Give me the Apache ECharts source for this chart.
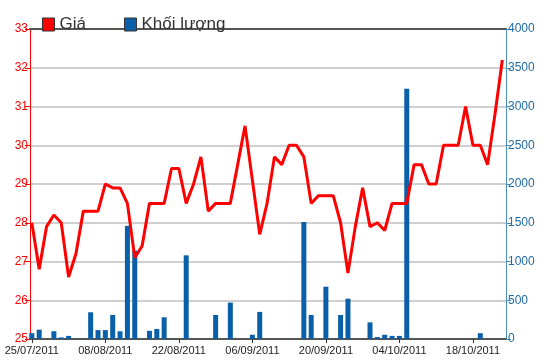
<!DOCTYPE html>
<html>
<head>
<meta charset="utf-8">
<script src="https://cdn.jsdelivr.net/npm/echarts@6/dist/echarts.min.js"></script>
<style>
html,body{margin:0;padding:0;background:#fff;}
#chart{width:550px;height:364px;}
</style>
</head>
<body>
<div id="chart"></div>
<script>
// Trading dates (02/09/2011 holiday skipped)
const dates = [
  '25/07/2011','26/07/2011','27/07/2011','28/07/2011','29/07/2011',
  '01/08/2011','02/08/2011','03/08/2011','04/08/2011','05/08/2011',
  '08/08/2011','09/08/2011','10/08/2011','11/08/2011','12/08/2011',
  '15/08/2011','16/08/2011','17/08/2011','18/08/2011','19/08/2011',
  '22/08/2011','23/08/2011','24/08/2011','25/08/2011','26/08/2011',
  '29/08/2011','30/08/2011','31/08/2011','01/09/2011',
  '05/09/2011','06/09/2011','07/09/2011','08/09/2011','09/09/2011',
  '12/09/2011','13/09/2011','14/09/2011','15/09/2011','16/09/2011',
  '19/09/2011','20/09/2011','21/09/2011','22/09/2011','23/09/2011',
  '26/09/2011','27/09/2011','28/09/2011','29/09/2011','30/09/2011',
  '03/10/2011','04/10/2011','05/10/2011','06/10/2011','07/10/2011',
  '10/10/2011','11/10/2011','12/10/2011','13/10/2011','14/10/2011',
  '17/10/2011','18/10/2011','19/10/2011','20/10/2011','21/10/2011',
  '24/10/2011'
];
const price = [
  28.0, 26.8, 27.9, 28.2, 28.0,
  26.6, 27.2, 28.3, 28.3, 28.3,
  29.0, 28.9, 28.9, 28.5, 27.1,
  27.4, 28.5, 28.5, 28.5, 29.4,
  29.4, 28.5, 29.0, 29.7, 28.3,
  28.5, 28.5, 28.5, 29.5,
  30.5, 29.1, 27.7, 28.5, 29.7,
  29.5, 30.0, 30.0, 29.7, 28.5,
  28.7, 28.7, 28.7, 28.0, 26.7,
  27.9, 28.9, 27.9, 28.0, 27.8,
  28.5, 28.5, 28.5, 29.5, 29.5,
  29.0, 29.0, 30.0, 30.0, 30.0,
  31.0, 30.0, 30.0, 29.5, 30.8,
  32.2
];
const volume = [
  75, 120, 0, 100, 20,
  40, 0, 0, 345, 115,
  115, 310, 100, 1460, 1140,
  0, 105, 130, 280, 0,
  0, 1080, 0, 0, 0,
  310, 0, 470, 0,
  0, 55, 350, 0, 0,
  0, 0, 0, 1510, 310,
  0, 675, 0, 310, 520,
  0, 0, 215, 25, 55,
  40, 40, 3230, 0, 0,
  0, 0, 0, 0, 0,
  0, 0, 75, 0, 0
];
const priceTicks = [25, 33, 1];
const volumeTicks = [0, 4000, 500];
const labelIdx = [0, 10, 20, 30, 40, 50, 60];

const FONT = 'Liberation Sans';
const chart = echarts.init(document.getElementById('chart'), null, {renderer: 'canvas'});
chart.setOption({
  animation: false,
  backgroundColor: '#ffffff',
  textStyle: {fontFamily: FONT},
  grid: {left: 30, right: 44, top: 29, bottom: 25, containLabel: false, outerBoundsMode: 'none'},
  legend: {
    left: 37, top: 11, icon: 'rect', itemWidth: 12, itemHeight: 13, itemGap: 38,
    textStyle: {fontSize: 17, color: '#333', fontFamily: FONT},
    data: [
      {name: 'Giá', itemStyle: {color: '#ff0000', borderColor: '#333', borderWidth: 1}},
      {name: 'Khối lượng', itemStyle: {color: '#0a60a8', borderColor: '#333', borderWidth: 1}}
    ]
  },
  xAxis: [{
    type: 'value', min: -0.25, max: 64.5, position: 'bottom',
    splitLine: {show: false},
    axisLine: {show: true, onZero: false, lineStyle: {color: '#555', width: 2}},
    axisTick: {show: true, customValues: labelIdx, length: 4, lineStyle: {color: '#333'}},
    axisLabel: {customValues: labelIdx, formatter: v => dates[Math.round(v)] || '', fontSize: 11, color: '#222', margin: 6, fontFamily: FONT}
  }, {
    type: 'value', min: -0.25, max: 64.5, position: 'top',
    splitLine: {show: false},
    axisLine: {show: true, onZero: false, lineStyle: {color: '#555', width: 2}},
    axisTick: {show: false}, axisLabel: {show: false}
  }],
  yAxis: [{
    type: 'value', min: priceTicks[0], max: priceTicks[1], interval: priceTicks[2], position: 'left',
    name: 'Giá (nghìn đồng)', nameLocation: 'middle', nameRotate: 90, nameGap: 30, nameMoveOverlap: false,
    nameTextStyle: {color: '#ff0000', fontSize: 17, fontFamily: FONT},
    axisLine: {show: true, onZero: false, lineStyle: {color: '#ff0000', width: 1}},
    axisTick: {show: true, length: 5, lineStyle: {color: '#ff0000'}},
    axisLabel: {color: '#ff0000', fontSize: 12, margin: 2, fontFamily: FONT, formatter: v => String(v)},
    splitLine: {show: true, lineStyle: {color: '#d0d0d0', width: 2}}
  }, {
    type: 'value', min: volumeTicks[0], max: volumeTicks[1], interval: volumeTicks[2], position: 'right',
    axisLine: {show: true, onZero: false, lineStyle: {color: '#4b8fbf', width: 1}},
    axisTick: {show: true, length: 5, lineStyle: {color: '#4b8fbf'}},
    axisLabel: {color: '#1f6aa5', fontSize: 12, margin: 2, fontFamily: FONT, formatter: v => String(v)},
    splitLine: {show: false}
  }],
  series: [{
    name: 'Khối lượng', type: 'bar', xAxisIndex: 0, yAxisIndex: 1, barWidth: 5,
    itemStyle: {color: '#0a60a8'},
    data: volume.map((v, i) => [i, v > 0 ? v : null]),
    z: 2
  }, {
    name: 'Giá', type: 'line', xAxisIndex: 0, yAxisIndex: 0, showSymbol: false, symbol: 'none',
    lineStyle: {color: '#ff0000', width: 3},
    itemStyle: {color: '#ff0000'},
    data: price.map((v, i) => [i, v]),
    z: 3
  }]
});
</script>
</body>
</html>
